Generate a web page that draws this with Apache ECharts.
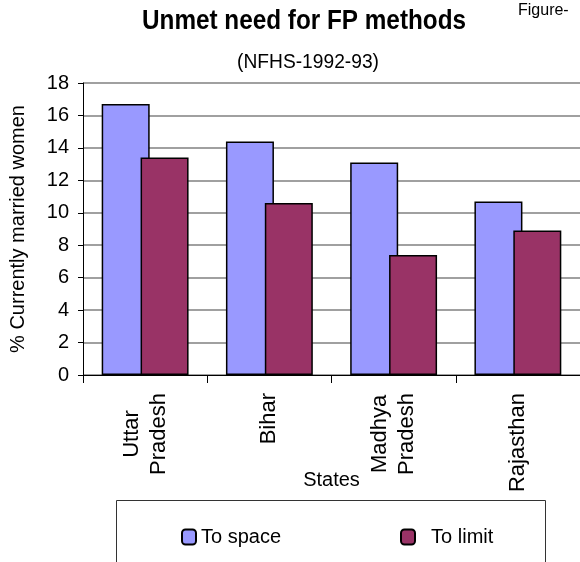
<!DOCTYPE html>
<html><head><meta charset="utf-8">
<script src="https://cdn.jsdelivr.net/npm/echarts@6/dist/echarts.min.js"></script>
<style>html,body{margin:0;padding:0;background:#fff}#c{width:580px;height:562px}</style>
</head><body><div id="c"></div>
<script>
const categories = ['Uttar\nPradesh', 'Bihar', 'Madhya\nPradesh', 'Rajasthan'];
const toSpace = [16.7, 14.4, 13.1, 10.7];
const toLimit = [13.4, 10.6, 7.4, 8.9];
const yTicks = [0, 2, 4, 6, 8, 10, 12, 14, 16, 18];

const FONT = '"Liberation Sans", Arial, sans-serif';
const chart = echarts.init(document.getElementById('c'), null, {renderer: 'canvas'});
chart.setOption({
  backgroundColor: '#fff',
  animation: false,
  textStyle: {fontFamily: FONT, color: '#000'},
  legend: [
    {data: ['To space'], left: 176, top: 522, itemWidth: 14, itemHeight: 15, itemGap: 6,
     textStyle: {fontFamily: FONT, fontSize: 20, color: '#000'}},
    {data: ['To limit'], left: 395, top: 522, itemWidth: 14, itemHeight: 15,
     formatter: '  {name}',
     textStyle: {fontFamily: FONT, fontSize: 20, color: '#000'}}
  ],
  graphic: [
    {type: 'text', x: 304, y: 22, scaleX: 0.9, silent: true,
     style: {text: 'Unmet need for FP methods', font: 'bold 27px ' + FONT, fill: '#000',
             align: 'center', verticalAlign: 'middle'}},
    {type: 'text', x: 308, y: 62, scaleX: 0.96, silent: true,
     style: {text: '(NFHS-1992-93)', font: '20px ' + FONT, fill: '#000',
             align: 'center', verticalAlign: 'middle'}},
    {type: 'text', x: 518, y: 11, silent: true,
     style: {text: 'Figure-', font: '16px ' + FONT, fill: '#000',
             align: 'left', verticalAlign: 'middle'}},
    {type: 'rect', shape: {x: 116.5, y: 500.5, width: 429, height: 80},
     style: {fill: 'none', stroke: '#333', lineWidth: 1}, silent: true}
  ],
  grid: {left: 83, right: -5, top: 83, bottom: 187, containLabel: false},
  xAxis: {
    type: 'category', data: categories,
    axisLine: {lineStyle: {color: '#000', width: 1}},
    axisTick: {show: true, length: 8, lineStyle: {color: '#000'}},
    axisLabel: {rotate: 90, margin: 18,
      formatter: v => v.split('\n').map(s => '{c|' + s + '}').join('\n'),
      rich: {c: {align: 'center', fontSize: 22, fontFamily: FONT, color: '#000', lineHeight: 27}}},
    name: 'States', nameLocation: 'middle', nameGap: 95, nameMoveOverlap: false,
    nameTextStyle: {fontFamily: FONT, fontSize: 20, color: '#000'}
  },
  yAxis: {
    type: 'value', min: 0, max: 18, interval: 2,
    axisLine: {show: true, lineStyle: {color: '#000', width: 1}},
    axisTick: {show: true, length: 5, inside: false, lineStyle: {color: '#000'}},
    axisLabel: {fontSize: 20, fontFamily: FONT, color: '#000', margin: 14,
      formatter: v => yTicks.includes(v) ? String(v) : ''},
    splitLine: {show: true, lineStyle: {color: '#808080', width: 1.5}},
    name: '% Currently married women', nameLocation: 'middle', nameGap: 55, nameMoveOverlap: false,
    nameTextStyle: {fontFamily: FONT, fontSize: 20, color: '#000'}
  },
  series: [
    {name: 'To space', type: 'bar', data: toSpace, barWidth: 48, barGap: '-19%',
     itemStyle: {color: '#9999FF', borderColor: '#000', borderWidth: 1.5}},
    {name: 'To limit', type: 'bar', data: toLimit, barWidth: 48,
     itemStyle: {color: '#993366', borderColor: '#000', borderWidth: 1.5}}
  ]
});
</script></body></html>
